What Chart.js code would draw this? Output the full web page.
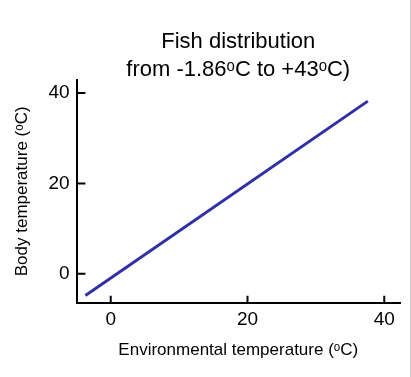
<!DOCTYPE html>
<html>
<head>
<meta charset="utf-8">
<script src="https://cdn.jsdelivr.net/npm/chart.js@4"></script>
<style>
  html, body { margin: 0; padding: 0; background: #fff; }
  #wrap { width: 410px; height: 377px; border-right: 1px solid #d0d0d0; }
</style>
</head>
<body>
<div id="wrap"><canvas id="fish" width="410" height="377"></canvas></div>
<script>
// line end points (environmental temp, body temp)
var envTemp = [-3.7, 37.6];
var bodyTemp = [-4.8, 38.2];
var xTicks = [0, 20, 40];
var yTicks = [0, 20, 40];
var xMin = -5, xMax = 42.3;
var yMin = -6.4, yMax = 42.9;

var points = envTemp.map(function (x, i) { return { x: x, y: bodyTemp[i] }; });

var font = 'Arial, "Liberation Sans", sans-serif';

// short inward tick marks as tiny segments, in data units
var tickStyle = { showLine: true, borderColor: '#000', borderWidth: 2, pointRadius: 0 };
var tickSets = [];
xTicks.forEach(function (v) {
    tickSets.push(Object.assign({ data: [{ x: v, y: yMin }, { x: v, y: yMin + 1.55 }] }, tickStyle));
});
yTicks.forEach(function (v) {
    tickSets.push(Object.assign({ data: [{ x: xMin, y: v }, { x: xMin + 1.3, y: v }] }, tickStyle));
});

var myChart = new Chart(document.getElementById("fish").getContext('2d'), {
    type: 'scatter',
    data: {
        datasets: [{
            data: points,
            showLine: true,
            borderColor: '#2f2fa6',
            borderWidth: 3,
            pointRadius: 0
        }].concat(tickSets)
    },
    options: {
        responsive: false,
        animation: false,
        layout: { padding: { top: 28, right: 10, left: 12, bottom: 16 } },
        plugins: {
            legend: { display: false },
            tooltip: { enabled: false },
            title: {
                display: true,
                fullSize: false,
                text: ['Fish distribution', 'from -1.86\u1d52C to +43\u1d52C)'],
                color: '#000',
                font: { family: font, size: 22, weight: 'normal', lineHeight: 1.27 },
                padding: { top: 0, bottom: -4 }
            }
        },
        scales: {
            x: {
                min: xMin,
                max: xMax,
                grid: { display: true, drawOnChartArea: false, tickLength: -7, color: 'rgba(0,0,0,0)', lineWidth: 2 },
                border: { display: true, color: '#000', width: 2 },
                ticks: {
                    stepSize: xTicks[1] - xTicks[0],
                    includeBounds: false,
                    color: '#000',
                    padding: 13,
                    font: { family: font, size: 19 }
                },
                title: {
                    display: true,
                    text: 'Environmental temperature (\u1d52C)',
                    color: '#000',
                    font: { family: font, size: 17 },
                    padding: { top: -4, bottom: 0 }
                }
            },
            y: {
                min: yMin,
                max: yMax,
                grid: { display: true, drawOnChartArea: false, tickLength: -9, color: 'rgba(0,0,0,0)', lineWidth: 2 },
                border: { display: true, color: '#000', width: 2 },
                ticks: {
                    stepSize: yTicks[1] - yTicks[0],
                    includeBounds: false,
                    color: '#000',
                    padding: 16,
                    font: { family: font, size: 19 }
                },
                title: {
                    display: true,
                    text: 'Body temperature (\u1d52C)',
                    color: '#000',
                    font: { family: font, size: 17 },
                    padding: { top: 0, bottom: 0 }
                }
            }
        }
    }
});
</script>
</body>
</html>
